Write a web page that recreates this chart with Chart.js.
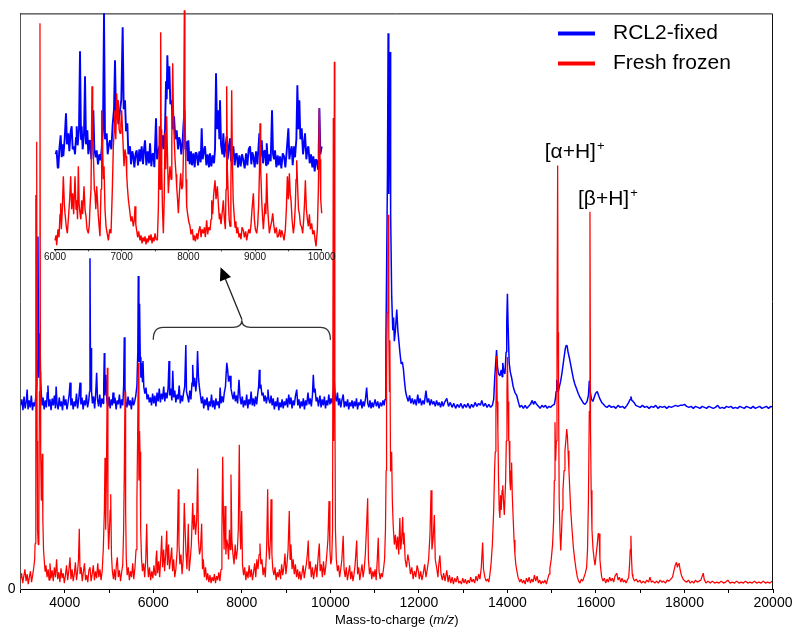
<!DOCTYPE html>
<html><head><meta charset="utf-8">
<script src="https://cdn.jsdelivr.net/npm/chart.js@4/dist/chart.umd.min.js"></script>
<style>
html,body{margin:0;padding:0;background:#fff;}
#wrap{position:relative;width:800px;height:633px;}
#main{position:absolute;left:0;top:0;}
#inset{position:absolute;left:0;top:0;pointer-events:none;}
</style></head><body>
<div id="wrap"><canvas id="main" width="800" height="633"></canvas><canvas id="inset" width="345" height="275"></canvas></div>
<script>
const FONT = "'Liberation Sans', Arial, Helvetica, sans-serif";
const seriesNames = ['RCL2-fixed', 'Fresh frozen'];
const mainXTicks = [4000, 6000, 8000, 10000, 12000, 14000, 16000, 18000, 20000];
const mainYTicks = [0];
const insetXTicks = [6000, 7000, 8000, 9000, 10000];
const peakLabels = ['[α+H]', '[β+H]'];
const peakMz = [15135, 15865];
const xTitleParts = ['Mass-to-charge (', 'm/z', ')'];

const blueMain = [[3000,186],[3030,192],[3055,181],[3080,195],[3105,183],[3130,190],[3150,202],[3170,182],[3195,191],[3220,184],[3245,196],[3270,181],[3295,189],[3320,185],[3345,194],[3365,205],[3380,232],[3395,357],[3410,214],[3425,236],[3440,259],[3455,210],[3470,198],[3490,186],[3510,194],[3535,182],[3560,191],[3585,184],[3605,199],[3620,206],[3640,185],[3665,192],[3690,181],[3715,193],[3740,186],[3765,196],[3790,183],[3805,205],[3825,188],[3850,182],[3875,194],[3900,185],[3925,190],[3950,181],[3975,196],[4000,186],[4025,192],[4050,182],[4075,189],[4100,197],[4120,209],[4140,186],[4165,193],[4190,182],[4215,190],[4240,185],[4265,198],[4290,183],[4315,192],[4345,209],[4365,187],[4390,194],[4415,182],[4440,191],[4465,186],[4490,197],[4515,184],[4540,190],[4560,200],[4570,335],[4582,215],[4593,244],[4605,200],[4625,188],[4650,195],[4675,183],[4700,199],[4720,219],[4740,192],[4765,185],[4790,197],[4815,184],[4840,193],[4865,188],[4880,205],[4893,239],[4905,196],[4930,217],[4950,191],[4975,185],[5000,195],[5025,183],[5050,192],[5075,186],[5090,199],[5110,188],[5135,194],[5160,182],[5185,191],[5210,187],[5235,197],[5260,183],[5285,192],[5310,186],[5330,205],[5345,255],[5360,203],[5380,190],[5405,184],[5430,195],[5455,186],[5480,191],[5505,182],[5530,194],[5555,186],[5580,190],[5605,196],[5630,206],[5650,240],[5661,317],[5675,230],[5690,289],[5705,235],[5720,214],[5738,229],[5755,210],[5767,231],[5785,205],[5810,198],[5835,204],[5860,192],[5885,197],[5910,189],[5935,194],[5960,186],[5985,198],[6010,188],[6035,196],[6060,185],[6085,199],[6110,190],[6135,203],[6160,189],[6185,198],[6210,192],[6235,205],[6260,190],[6285,199],[6310,193],[6335,204],[6355,231],[6370,196],[6395,203],[6420,191],[6440,221],[6460,194],[6485,201],[6510,189],[6535,197],[6560,192],[6585,206],[6610,188],[6635,196],[6660,190],[6685,199],[6710,205],[6735,247],[6750,200],[6775,195],[6800,189],[6825,201],[6850,192],[6875,209],[6890,227],[6910,205],[6935,214],[6960,200],[6980,210],[7000,241],[7020,215],[7040,205],[7065,196],[7090,188],[7115,195],[7140,183],[7165,192],[7190,186],[7215,194],[7240,181],[7265,190],[7290,185],[7315,197],[7340,184],[7365,191],[7390,182],[7415,193],[7440,186],[7465,190],[7490,183],[7510,204],[7530,188],[7555,195],[7580,189],[7605,199],[7630,205],[7660,229],[7680,222],[7700,210],[7733,216],[7755,203],[7780,197],[7805,192],[7830,200],[7855,190],[7880,196],[7905,188],[7936,212],[7960,194],[7985,187],[8010,195],[8035,184],[8060,191],[8085,186],[8110,197],[8135,183],[8160,192],[8185,187],[8210,200],[8235,186],[8260,193],[8285,185],[8310,195],[8335,187],[8360,198],[8380,205],[8395,222],[8410,203],[8430,207],[8455,196],[8480,199],[8505,190],[8530,196],[8555,188],[8575,194],[8590,202],[8610,192],[8635,188],[8660,196],[8685,186],[8710,193],[8735,182],[8760,190],[8785,185],[8810,194],[8835,181],[8860,189],[8885,184],[8910,192],[8935,183],[8960,190],[8985,186],[9010,193],[9035,184],[9060,197],[9085,187],[9110,194],[9135,183],[9160,191],[9185,186],[9210,195],[9240,202],[9265,186],[9290,192],[9315,183],[9340,190],[9365,185],[9390,193],[9415,182],[9440,191],[9465,186],[9495,199],[9520,187],[9545,193],[9570,185],[9595,196],[9615,217],[9635,199],[9655,203],[9680,190],[9705,194],[9730,185],[9765,196],[9790,184],[9815,192],[9840,186],[9865,195],[9890,183],[9915,191],[9940,186],[9965,197],[9990,187],[10015,193],[10040,188],[10065,198],[10090,209],[10110,195],[10135,190],[10160,199],[10185,186],[10210,193],[10235,184],[10260,191],[10290,197],[10315,184],[10340,190],[10365,185],[10390,192],[10415,182],[10440,189],[10465,185],[10490,191],[10515,183],[10540,190],[10565,185],[10590,193],[10615,182],[10640,189],[10665,186],[10690,192],[10715,183],[10740,190],[10765,185],[10795,193],[10820,204],[10845,188],[10870,184],[10895,191],[10920,183],[10945,189],[10970,184],[11010,192],[11040,185],[11070,190],[11100,183],[11130,189],[11160,185],[11190,191],[11215,186],[11235,192],[11255,250],[11270,319],[11290,420],[11305,563],[11320,400],[11335,470],[11348,544],[11362,380],[11385,298],[11410,262],[11430,275],[11445,251],[11470,262],[11500,283],[11525,262],[11550,250],[11575,238],[11600,228],[11625,230],[11650,223],[11680,208],[11700,200],[11725,195],[11760,190],[11790,196],[11820,188],[11850,193],[11880,187],[11910,192],[11940,186],[11975,197],[12000,188],[12030,193],[12060,186],[12090,191],[12120,187],[12160,201],[12190,189],[12220,193],[12250,186],[12280,192],[12310,187],[12340,190],[12370,185],[12400,191],[12430,186],[12460,189],[12490,184],[12520,190],[12550,185],[12580,189],[12630,193],[12670,185],[12710,189],[12750,184],[12790,188],[12830,183],[12870,187],[12910,184],[12950,188],[12990,183],[13030,187],[13070,184],[13110,188],[13150,183],[13190,187],[13230,184],[13270,189],[13310,185],[13350,188],[13390,186],[13420,191],[13460,185],[13500,188],[13540,184],[13580,187],[13620,184],[13660,186],[13690,192],[13715,215],[13740,232],[13755,242],[13775,225],[13800,218],[13830,216],[13860,222],[13880,215],[13895,229],[13920,220],[13945,218],[13970,240],[13985,270],[14000,299],[14015,268],[14040,229],[14065,220],[14095,214],[14130,205],[14170,199],[14210,196],[14250,189],[14280,184],[14320,186],[14360,183],[14400,186],[14440,183],[14480,185],[14520,187],[14560,191],[14590,187],[14620,190],[14660,187],[14700,185],[14740,183],[14780,186],[14820,184],[14860,186],[14900,183],[14940,185],[14980,184],[15020,186],[15060,187],[15085,193],[15100,200],[15115,212],[15130,203],[15150,200],[15175,205],[15200,210],[15230,218],[15260,228],[15290,238],[15310,244],[15330,247],[15350,246],[15370,240],[15400,234],[15430,227],[15460,220],[15490,213],[15520,208],[15560,203],[15600,198],[15640,194],[15680,191],[15720,188],[15755,187],[15800,190],[15830,196],[15850,211],[15870,200],[15900,192],[15930,190],[15960,194],[15990,198],[16030,200],[16060,196],[16095,192],[16130,189],[16170,187],[16210,185],[16250,184],[16300,186],[16350,184],[16400,185],[16450,183],[16500,186],[16550,184],[16600,185],[16650,183],[16700,186],[16740,189],[16770,192],[16790,195],[16810,191],[16840,190],[16860,189],[16900,186],[16950,185],[17000,184],[17050,186],[17100,184],[17150,185],[17200,183],[17250,185],[17300,184],[17350,186],[17400,183],[17450,185],[17500,184],[17550,185],[17600,183],[17650,185],[17700,184],[17750,185],[17800,186],[17850,185],[17900,186],[17950,186],[18000,187],[18050,185],[18100,184],[18150,185],[18200,183],[18250,185],[18300,184],[18350,183],[18400,185],[18450,184],[18500,183],[18550,185],[18600,184],[18650,183],[18700,184],[18750,186],[18800,183],[18850,184],[18900,183],[18950,185],[19000,184],[19050,185],[19100,183],[19150,184],[19200,183],[19250,185],[19300,184],[19350,183],[19400,185],[19450,184],[19500,183],[19550,185],[19600,183],[19650,184],[19700,185],[19750,183],[19800,184],[19850,185],[19900,183],[19950,185],[20000,184]];

const redMain = [[3000,10],[3025,16],[3050,6],[3075,13],[3100,20],[3125,8],[3150,15],[3175,5],[3200,12],[3225,18],[3250,7],[3275,14],[3300,22],[3320,30],[3330,46],[3342,120],[3350,399],[3358,180],[3366,453],[3375,150],[3385,60],[3400,45],[3415,70],[3428,200],[3440,573],[3450,220],[3456,137],[3470,90],[3482,120],[3492,137],[3505,70],[3520,40],[3535,30],[3555,18],[3575,24],[3600,12],[3625,20],[3645,9],[3666,26],[3690,11],[3715,19],[3740,8],[3765,22],[3790,12],[3815,30],[3840,10],[3865,17],[3890,7],[3915,21],[3940,11],[3965,16],[3990,6],[4015,14],[4040,24],[4065,9],[4090,18],[4118,32],[4140,10],[4165,20],[4190,8],[4215,15],[4240,27],[4265,9],[4290,18],[4310,30],[4328,61],[4345,15],[4370,22],[4395,8],[4420,17],[4445,26],[4470,9],[4495,14],[4520,7],[4545,19],[4570,22],[4595,8],[4620,15],[4645,24],[4670,9],[4695,18],[4720,11],[4745,26],[4770,12],[4795,20],[4820,9],[4845,18],[4870,40],[4895,80],[4909,133],[4925,60],[4940,110],[4961,224],[4975,70],[4990,40],[5010,60],[5025,80],[5038,96],[5055,35],[5075,18],[5100,10],[5120,20],[5145,9],[5165,24],[5187,32],[5210,12],[5235,19],[5260,8],[5285,17],[5310,25],[5330,60],[5345,120],[5361,200],[5375,80],[5390,30],[5410,14],[5435,22],[5460,9],[5485,18],[5510,12],[5535,26],[5560,10],[5585,21],[5610,40],[5630,90],[5645,150],[5661,229],[5675,110],[5690,160],[5700,139],[5715,60],[5735,30],[5755,18],[5780,26],[5805,12],[5830,30],[5851,66],[5870,25],[5890,12],[5915,22],[5940,9],[5965,18],[5990,11],[6015,24],[6040,14],[6060,30],[6077,39],[6095,16],[6120,28],[6145,12],[6170,34],[6190,54],[6210,22],[6235,40],[6255,18],[6280,35],[6303,59],[6320,24],[6345,45],[6365,20],[6390,30],[6416,42],[6435,18],[6460,30],[6485,12],[6510,20],[6540,40],[6565,101],[6580,45],[6600,25],[6625,35],[6650,15],[6675,30],[6700,87],[6716,87],[6735,40],[6760,20],[6791,66],[6810,18],[6835,30],[6860,45],[6890,87],[6910,60],[6930,75],[6955,55],[6980,70],[7003,122],[7020,50],[7045,35],[7065,40],[7093,66],[7110,20],[7130,30],[7155,12],[7180,22],[7205,9],[7230,16],[7255,7],[7280,14],[7305,6],[7330,12],[7355,8],[7380,15],[7405,6],[7430,13],[7455,9],[7480,17],[7505,8],[7530,20],[7550,60],[7568,134],[7585,70],[7600,40],[7620,84],[7640,35],[7660,50],[7680,45],[7700,30],[7720,60],[7740,40],[7755,116],[7775,50],[7800,35],[7825,25],[7850,45],[7875,30],[7900,40],[7920,60],[7943,146],[7960,60],[7975,40],[7997,79],[8015,25],[8040,14],[8065,22],[8090,9],[8115,18],[8140,11],[8165,24],[8190,12],[8215,20],[8240,9],[8265,17],[8290,26],[8315,12],[8340,30],[8365,20],[8390,35],[8410,46],[8430,25],[8455,30],[8480,14],[8505,22],[8530,12],[8560,40],[8584,101],[8600,45],[8625,30],[8645,50],[8660,91],[8680,35],[8700,20],[8725,14],[8750,22],[8775,9],[8800,17],[8825,12],[8850,20],[8875,10],[8900,25],[8925,14],[8950,22],[8975,36],[8995,15],[9020,25],[9045,40],[9072,79],[9090,30],[9110,45],[9135,20],[9160,30],[9185,15],[9210,25],[9235,12],[9260,20],[9285,10],[9310,18],[9335,9],[9360,16],[9385,24],[9410,11],[9435,19],[9460,26],[9480,35],[9500,49],[9520,20],[9545,28],[9570,12],[9595,22],[9620,10],[9645,18],[9670,25],[9695,12],[9720,30],[9750,46],[9770,18],[9795,25],[9820,12],[9845,28],[9870,14],[9895,22],[9920,35],[9945,50],[9970,89],[9990,40],[10010,25],[10030,30],[10050,60],[10066,477],[10075,150],[10090,534],[10102,200],[10115,60],[10135,30],[10160,18],[10185,24],[10210,12],[10235,20],[10260,30],[10290,54],[10310,20],[10335,12],[10360,22],[10385,9],[10410,16],[10435,24],[10460,10],[10485,18],[10510,8],[10535,15],[10560,25],[10595,49],[10615,15],[10640,22],[10665,9],[10690,17],[10715,25],[10740,12],[10765,20],[10790,35],[10815,60],[10843,92],[10860,30],[10885,15],[10910,22],[10935,10],[10960,18],[10985,12],[11010,20],[11035,9],[11060,30],[11082,52],[11100,18],[11125,10],[11150,16],[11175,12],[11200,20],[11225,30],[11245,60],[11260,120],[11270,214],[11285,280],[11300,340],[11310,379],[11320,260],[11335,200],[11345,252],[11360,119],[11385,139],[11400,90],[11420,64],[11445,45],[11470,55],[11495,40],[11520,53],[11545,35],[11570,72],[11590,40],[11610,50],[11635,73],[11650,45],[11665,57],[11690,30],[11720,22],[11750,35],[11780,27],[11810,15],[11840,22],[11870,10],[11900,18],[11930,12],[11960,24],[11985,19],[12010,10],[12040,18],[12070,9],[12100,16],[12130,25],[12160,12],[12190,20],[12220,30],[12250,55],[12275,100],[12295,40],[12320,50],[12350,75],[12370,30],[12400,22],[12430,12],[12450,25],[12475,34],[12500,15],[12530,9],[12560,16],[12590,8],[12630,19],[12660,7],[12690,14],[12720,6],[12750,12],[12780,5],[12810,11],[12840,7],[12870,13],[12900,6],[12930,8],[12960,5],[12990,11],[13020,6],[13050,10],[13080,5],[13110,9],[13140,6],[13170,12],[13200,7],[13230,10],[13260,6],[13290,13],[13320,8],[13350,15],[13380,10],[13410,22],[13440,47],[13460,20],[13490,12],[13520,8],[13550,10],[13580,7],[13605,15],[13630,25],[13660,45],[13690,80],[13710,120],[13725,139],[13740,180],[13755,236],[13770,190],[13785,160],[13800,110],[13815,80],[13830,72],[13845,95],[13860,80],[13880,100],[13895,105],[13910,90],[13930,75],[13945,75],[13960,110],[13975,150],[13990,200],[14000,235],[14015,190],[14030,150],[14040,150],[14055,110],[14070,100],[14085,120],[14095,128],[14110,95],[14130,72],[14150,50],[14170,35],[14190,25],[14210,19],[14240,12],[14280,7],[14310,10],[14340,6],[14370,9],[14400,5],[14430,11],[14460,7],[14490,12],[14520,6],[14550,10],[14580,7],[14610,14],[14640,8],[14670,13],[14700,6],[14730,9],[14760,5],[14790,8],[14820,6],[14850,9],[14880,5],[14910,10],[14940,15],[14960,21],[14990,30],[15020,45],[15045,70],[15060,110],[15075,169],[15090,130],[15105,150],[15120,250],[15135,429],[15145,260],[15155,200],[15170,90],[15190,55],[15205,39],[15225,60],[15240,80],[15255,100],[15280,120],[15300,140],[15320,150],[15340,162],[15355,155],[15370,140],[15390,120],[15410,100],[15430,80],[15460,60],[15490,42],[15520,30],[15550,20],[15580,12],[15610,8],[15640,6],[15670,10],[15700,8],[15730,12],[15760,16],[15790,22],[15810,40],[15830,90],[15850,180],[15865,382],[15878,160],[15892,100],[15910,60],[15935,40],[15960,30],[15980,24],[16005,35],[16030,45],[16050,56],[16070,56],[16090,30],[16110,20],[16130,12],[16160,8],[16190,11],[16220,6],[16250,10],[16280,7],[16310,12],[16340,8],[16370,11],[16400,7],[16430,13],[16470,16],[16500,9],[16530,12],[16560,7],[16590,11],[16620,7],[16650,9],[16680,6],[16710,9],[16740,12],[16760,25],[16775,40],[16790,54],[16805,30],[16820,15],[16835,12],[16870,8],[16910,10],[16950,7],[16990,9],[17030,6],[17070,8],[17110,6],[17150,9],[17190,7],[17220,12],[17250,7],[17290,8],[17330,6],[17370,8],[17410,6],[17450,9],[17490,7],[17530,8],[17570,6],[17610,9],[17650,8],[17690,10],[17730,12],[17760,18],[17790,24],[17820,27],[17840,22],[17860,25],[17880,26],[17900,20],[17930,14],[17970,10],[18010,8],[18050,7],[18090,9],[18130,6],[18170,8],[18210,6],[18250,9],[18290,7],[18330,8],[18370,9],[18400,13],[18425,16],[18445,10],[18485,6],[18530,8],[18580,6],[18630,8],[18680,6],[18730,7],[18780,6],[18830,8],[18880,6],[18930,7],[18980,9],[19030,6],[19080,7],[19130,6],[19180,8],[19230,6],[19280,7],[19330,6],[19380,8],[19430,6],[19480,7],[19530,6],[19580,8],[19630,6],[19680,7],[19730,6],[19780,8],[19830,6],[19880,7],[19930,6],[19980,8],[20000,7]];

const blueInset = [[6010,95],[6025,99],[6040,82],[6050,81],[6065,100],[6085,114],[6100,92],[6115,105],[6125,93],[6145,110],[6165,136],[6180,105],[6200,116],[6215,98],[6235,118],[6250,123],[6265,100],[6285,103],[6300,95],[6315,112],[6325,123],[6340,104],[6360,120],[6375,198],[6390,110],[6400,123],[6415,100],[6435,115],[6450,173],[6465,105],[6485,119],[6500,95],[6515,108],[6525,109],[6545,90],[6560,115],[6575,139],[6590,100],[6610,92],[6625,99],[6645,85],[6665,95],[6685,89],[6700,100],[6720,120],[6735,236],[6750,110],[6775,116],[6790,95],[6810,105],[6825,109],[6845,100],[6865,125],[6885,140],[6900,189],[6915,130],[6935,149],[6950,125],[6975,139],[6995,150],[7015,222],[7030,140],[7050,149],[7065,118],[7085,126],[7100,95],[7125,103],[7140,85],[7160,98],[7175,93],[7190,82],[7210,96],[7225,99],[7245,84],[7265,100],[7280,88],[7300,103],[7320,85],[7335,100],[7350,109],[7370,84],[7390,98],[7410,86],[7425,106],[7445,83],[7460,95],[7475,96],[7490,82],[7515,131],[7530,90],[7550,98],[7565,103],[7580,88],[7600,105],[7615,114],[7630,100],[7650,120],[7665,168],[7675,150],[7685,194],[7700,160],[7715,183],[7730,145],[7750,149],[7765,120],[7785,133],[7805,110],[7825,119],[7845,100],[7860,112],[7875,109],[7895,95],[7915,110],[7940,139],[7955,100],[7975,108],[7990,88],[8000,109],[8020,85],[8040,98],[8055,84],[8075,96],[8095,82],[8110,97],[8125,96],[8145,84],[8165,98],[8185,87],[8200,121],[8215,90],[8235,99],[8250,103],[8270,84],[8290,95],[8310,82],[8325,96],[8345,83],[8365,94],[8385,86],[8400,100],[8415,176],[8430,120],[8450,139],[8465,110],[8475,149],[8490,105],[8510,95],[8525,116],[8540,92],[8560,105],[8575,113],[8590,90],[8610,104],[8625,111],[8640,88],[8660,100],[8675,103],[8695,84],[8710,95],[8725,96],[8745,82],[8765,94],[8785,83],[8805,95],[8825,89],[8845,81],[8865,96],[8885,84],[8905,100],[8925,103],[8945,85],[8960,97],[8975,93],[8995,82],[9015,98],[9035,85],[9050,100],[9065,116],[9080,92],[9100,109],[9120,86],[9135,98],[9150,99],[9165,84],[9175,106],[9195,85],[9215,95],[9235,88],[9255,139],[9270,95],[9285,90],[9300,99],[9320,82],[9340,94],[9355,84],[9375,93],[9395,81],[9415,96],[9435,93],[9455,82],[9475,98],[9500,121],[9515,90],[9530,97],[9550,103],[9565,84],[9585,103],[9600,92],[9620,110],[9635,164],[9650,120],[9665,149],[9680,110],[9700,121],[9720,95],[9735,105],[9750,116],[9770,90],[9785,100],[9800,103],[9820,86],[9840,95],[9860,82],[9875,93],[9895,78],[9910,90],[9925,89],[9945,80],[9955,100],[9965,141],[9980,95],[10000,103],[10015,85],[10030,98],[10045,88],[10065,108]];

const redInset = [[6000,9],[6015,14],[6025,4],[6045,20],[6060,12],[6075,35],[6085,46],[6095,20],[6110,40],[6125,73],[6140,45],[6150,36],[6170,22],[6185,16],[6200,30],[6220,50],[6235,73],[6250,40],[6265,56],[6280,35],[6300,73],[6315,40],[6325,49],[6338,30],[6350,83],[6362,45],[6375,36],[6388,30],[6400,49],[6415,35],[6435,63],[6450,40],[6465,33],[6480,20],[6500,16],[6515,25],[6525,43],[6540,60],[6555,163],[6565,110],[6575,96],[6590,60],[6600,56],[6612,40],[6625,63],[6640,45],[6650,33],[6665,20],[6675,13],[6690,60],[6700,139],[6708,110],[6715,99],[6725,70],[6735,83],[6750,40],[6765,23],[6785,15],[6800,9],[6820,20],[6840,16],[6860,60],[6875,103],[6890,120],[6900,139],[6912,110],[6925,156],[6938,130],[6950,149],[6962,120],[6975,116],[6988,125],[7000,139],[7018,110],[7035,83],[7050,100],[7065,93],[7075,75],[7085,63],[7100,50],[7115,42],[7125,36],[7140,28],[7155,33],[7175,23],[7190,30],[7200,43],[7212,25],[7225,19],[7240,12],[7255,18],[7275,9],[7290,14],[7305,6],[7320,12],[7335,8],[7350,13],[7365,5],[7380,11],[7395,7],[7410,14],[7425,9],[7440,15],[7455,6],[7470,12],[7485,8],[7500,16],[7515,10],[7535,9],[7550,40],[7565,123],[7575,60],[7585,217],[7592,120],[7600,83],[7612,40],[7625,16],[7638,50],[7650,116],[7662,80],[7675,133],[7688,90],[7700,56],[7712,70],[7725,83],[7740,70],[7752,110],[7765,186],[7775,140],[7785,116],[7800,90],[7815,75],[7825,63],[7838,50],[7850,36],[7865,55],[7885,76],[7900,60],[7915,63],[7928,100],[7940,239],[7948,150],[7955,116],[7965,70],[7975,43],[7990,35],[8005,28],[8025,23],[8040,15],[8060,20],[8075,9],[8090,14],[8105,8],[8125,16],[8140,10],[8155,18],[8175,23],[8190,12],[8205,20],[8225,16],[8240,22],[8255,12],[8275,29],[8290,15],[8305,22],[8325,19],[8340,30],[8350,49],[8365,35],[8380,55],[8400,69],[8415,50],[8435,63],[8450,45],[8465,30],[8475,36],[8490,25],[8505,35],[8525,49],[8540,30],[8555,20],[8565,60],[8575,163],[8585,80],[8600,49],[8612,30],[8625,23],[8638,60],[8650,159],[8660,90],[8672,50],[8685,36],[8700,22],[8712,28],[8725,16],[8740,22],[8760,12],[8775,16],[8790,10],[8805,22],[8825,19],[8840,12],[8860,18],[8875,9],[8890,15],[8905,20],[8925,16],[8940,25],[8955,40],[8975,56],[8990,30],[9005,20],[9025,16],[9040,25],[9055,45],[9067,80],[9075,126],[9085,80],[9100,49],[9115,30],[9125,20],[9140,35],[9150,46],[9162,35],[9175,76],[9188,45],[9200,30],[9215,16],[9230,22],[9250,28],[9265,36],[9280,25],[9300,16],[9320,22],[9335,12],[9350,13],[9370,20],[9385,12],[9400,19],[9420,14],[9435,9],[9455,20],[9470,40],[9485,73],[9500,50],[9515,76],[9528,55],[9540,49],[9555,30],[9575,16],[9590,25],[9605,45],[9615,70],[9625,89],[9640,60],[9652,40],[9665,36],[9680,25],[9700,22],[9715,16],[9730,30],[9745,50],[9755,69],[9770,40],[9785,30],[9800,23],[9815,35],[9830,20],[9850,26],[9865,15],[9885,19],[9900,10],[9915,3],[9935,20],[9950,60],[9965,141],[9975,90],[9985,50],[10000,36],[10015,28],[10025,19],[10040,25],[10055,33]];

const seriesColors = ['#0000ff', '#ff0000'];

const overlay = {
  id: 'overlay',
  afterDraw(chart) {
    const {ctx, chartArea: a, scales: {x, y}} = chart;
    ctx.save();
    ctx.strokeStyle = '#111'; ctx.lineWidth = 1;
    ctx.beginPath();
    ctx.moveTo(a.left, a.top + 0.5); ctx.lineTo(a.right - 0.5, a.top + 0.5); ctx.lineTo(a.right - 0.5, a.bottom);
    ctx.stroke();
    ctx.textBaseline = 'middle'; ctx.textAlign = 'left';
    seriesNames.forEach((n, i) => {
      const yy = 33.5 + i * 30;
      ctx.strokeStyle = seriesColors[i]; ctx.lineWidth = 4; ctx.lineCap = 'butt';
      ctx.beginPath(); ctx.moveTo(558, yy); ctx.lineTo(595, yy); ctx.stroke();
      ctx.fillStyle = '#000'; ctx.font = '21px ' + FONT;
      ctx.fillText(n, 613, yy);
    });
    const offs = [[-13, 442], [-12, 395]];
    peakLabels.forEach((t, i) => {
      const px = x.getPixelForValue(peakMz[i]) + offs[i][0];
      const py = y.getPixelForValue(offs[i][1]);
      ctx.font = '21px ' + FONT; ctx.fillStyle = '#000';
      ctx.fillText(t, px, py);
      const w = ctx.measureText(t).width;
      ctx.font = '13px ' + FONT;
      ctx.fillText('+', px + w + 1, py - 6);
    });
    const bx1 = x.getPixelForValue(6000), bx2 = x.getPixelForValue(10000), bm = (bx1 + bx2) / 2;
    const by = y.getPixelForValue(265);
    ctx.strokeStyle = '#333'; ctx.lineWidth = 1.3; ctx.lineCap = 'round';
    ctx.beginPath();
    ctx.moveTo(bx1, by + 12);
    ctx.quadraticCurveTo(bx1, by, bx1 + 10, by);
    ctx.lineTo(bm - 9, by);
    ctx.quadraticCurveTo(bm, by, bm, by - 7);
    ctx.quadraticCurveTo(bm, by, bm + 9, by);
    ctx.lineTo(bx2 - 10, by);
    ctx.quadraticCurveTo(bx2, by, bx2, by + 12);
    ctx.stroke();
    const tx = x.getPixelForValue(7520), ty = y.getPixelForValue(326);
    const sx = bm, sy = by - 8;
    const ang = Math.atan2(ty - sy, tx - sx);
    const L = 13, W = 6;
    const bxp = tx - L * Math.cos(ang), byp = ty - L * Math.sin(ang);
    ctx.strokeStyle = '#222';
    ctx.beginPath(); ctx.moveTo(sx, sy); ctx.lineTo(bxp, byp); ctx.stroke();
    ctx.fillStyle = '#000';
    ctx.beginPath(); ctx.moveTo(tx, ty);
    ctx.lineTo(bxp + W * Math.sin(ang), byp - W * Math.cos(ang));
    ctx.lineTo(bxp - W * Math.sin(ang), byp + W * Math.cos(ang));
    ctx.closePath(); ctx.fill();
    const f1 = '13px ' + FONT, f2 = 'italic 13px ' + FONT;
    const fonts = [f1, f2, f1];
    const widths = xTitleParts.map((p, i) => { ctx.font = fonts[i]; return ctx.measureText(p).width; });
    const total = widths.reduce((s, v) => s + v, 0);
    let cx = (a.left + a.right) / 2 - total / 2;
    ctx.fillStyle = '#000'; ctx.textBaseline = 'middle';
    xTitleParts.forEach((p, i) => { ctx.font = fonts[i]; ctx.fillText(p, cx, 620); cx += widths[i]; });
    ctx.restore();
  }
};

new Chart(document.getElementById('main'), {
  type: 'line',
  data: { datasets: [
    { label: seriesNames[0], data: blueMain, borderColor: seriesColors[0], borderWidth: 1.5, pointRadius: 0, tension: 0, order: 1, borderJoinStyle: 'bevel', fill: false },
    { label: seriesNames[1], data: redMain, borderColor: seriesColors[1], borderWidth: 1.25, pointRadius: 0, tension: 0, order: 0, borderJoinStyle: 'bevel', fill: false }
  ]},
  options: {
    responsive: false, animation: false, events: [], devicePixelRatio: 1,
    layout: { padding: { top: 6, right: 27, left: 0, bottom: 0 } },
    plugins: { legend: { display: false }, tooltip: { enabled: false }, title: { display: false } },
    scales: {
      x: {
        type: 'linear', min: 3000, max: 20000,
        afterFit(s) { s.height = 44; },
        ticks: { stepSize: 1000, autoSkip: false, maxRotation: 0, minRotation: 0, color: '#000', font: { family: FONT, size: 14 }, padding: 2,
          callback: (v) => mainXTicks.includes(v) ? String(v) : '' },
        grid: { drawOnChartArea: false, drawTicks: true, tickLength: 4, color: '#000', lineWidth: 1 },
        border: { display: true, color: '#000', width: 1 }
      },
      y: {
        type: 'linear', min: 0, max: 583,
        afterFit(s) { s.width = 20.5; },
        afterBuildTicks(s) { s.ticks = mainYTicks.map(v => ({ value: v })); },
        ticks: { color: '#000', font: { family: FONT, size: 14 }, padding: 5 },
        grid: { drawOnChartArea: false, drawTicks: false },
        border: { display: true, color: '#555', width: 1 }
      }
    }
  },
  plugins: [overlay]
});

new Chart(document.getElementById('inset'), {
  type: 'line',
  data: { datasets: [
    { label: seriesNames[0], data: blueInset, borderColor: seriesColors[0], borderWidth: 1.9, pointRadius: 0, tension: 0, order: 1, borderJoinStyle: 'bevel', fill: false, clip: false },
    { label: seriesNames[1], data: redInset, borderColor: seriesColors[1], borderWidth: 1.4, pointRadius: 0, tension: 0, order: 0, borderJoinStyle: 'bevel', fill: false, clip: false }
  ]},
  options: {
    responsive: false, animation: false, events: [], devicePixelRatio: 1,
    layout: { padding: { top: 8, right: 23.3, left: 55, bottom: 0 } },
    plugins: { legend: { display: false }, tooltip: { enabled: false }, title: { display: false } },
    scales: {
      x: {
        type: 'linear', min: 6000, max: 10000,
        afterFit(s) { s.height = 25.7; },
        ticks: { stepSize: 500, autoSkip: false, maxRotation: 0, minRotation: 0, color: '#111', font: { family: FONT, size: 10 }, padding: 0,
          callback: (v) => insetXTicks.includes(v) ? String(v) : '' },
        grid: { drawOnChartArea: false, drawTicks: true, tickLength: 2, color: '#000', lineWidth: 1 },
        border: { display: true, color: '#000', width: 1.3 }
      },
      y: { type: 'linear', min: 0, max: 241.3, display: false }
    }
  }
});
</script>
</body></html>
